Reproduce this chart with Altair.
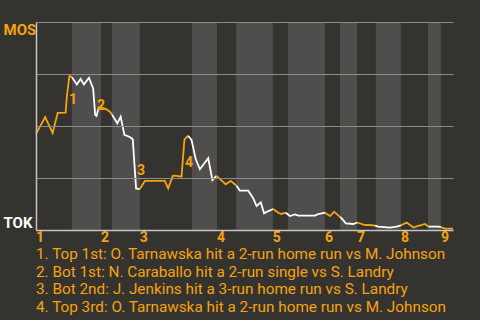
import altair as alt
import pandas as pd

ORANGE = "#f5a30f"
WHITE = "#ffffff"
BG = "#353330"
BAND = "#4f4e4c"
GRID = "#8c8c89"
AXIS = "#c4c4c2"

# Win-probability readings (MOS win %, plotted over game progress 0-100)
play = [
    0, 2.2, 4.0, 5.2, 7.1, 7.4, 8.0, 8.2, 8.6,
    9.8, 10.7, 11.5, 12.7, 13.7, 14.2, 14.5, 15.1,
    15.6, 17.0, 17.7, 18.2,
    19.5, 20.3, 21.2, 22.5, 23.2, 24.0, 24.9,
    26.1, 30.9, 31.7, 32.8, 33.3, 34.9, 35.6, 36.5,
    37.3, 38.3, 39.3, 41.3, 42.3, 43.3,
    44.4, 45.5, 46.7, 48.1,
    48.9, 50.9, 52.1, 52.9, 53.9, 54.7, 55.7, 56.9,
    58.1, 58.8, 59.9,
    60.9, 62.1, 62.9, 66.9, 67.5, 69.3,
    70.5, 71.5, 72.9,
    73.3, 74.3, 76.1, 77.0,
    78.9, 80.1, 81.3,
    82.1, 84.9, 86.5, 87.5,
    88.9, 90.5, 91.3, 93.3, 94.1,
    96.5, 97.1,
    98.1, 100,
]
mos_wp = [
    46.2, 54.3, 46.6, 56.3, 56.4, 64.1, 74.0, 74.0, 73.4,
    70.0, 72.6, 70.0, 73.2, 68.1, 55.3, 54.8, 59.3,
    59.1, 57.9, 56.9, 55.6,
    51.3, 54.5, 45.7, 44.7, 43.6, 20.0, 19.7,
    23.6, 23.6, 20.0, 26.0, 26.1, 25.6, 43.6, 45.3,
    43.3, 34.1, 29.2, 34.5, 24.0, 26.0,
    24.0, 22.0, 23.6, 21.3,
    18.9, 18.9, 15.2, 11.5, 13.3, 8.0, 9.1, 10.1,
    8.3, 7.7, 8.3,
    6.7, 7.5, 6.9, 6.9, 7.5, 8.3,
    6.7, 8.8, 6.3,
    5.6, 3.2, 2.9, 3.6,
    2.4, 2.4, 2.1,
    1.6, 1.1, 1.6, 2.2,
    3.6, 1.2, 1.7, 2.9, 1.6,
    1.6, 1.4,
    0.7, 0.7,
]
# Half-inning each reading belongs to (even = top, odd = bottom)
half = (
    [0] * 9 + [1] * 8 + [2] * 4 + [3] * 7 + [4] * 8 + [5] * 6 + [6] * 4
    + [7] * 8 + [8] * 3 + [9] * 6 + [10] * 3 + [11] * 4 + [12] * 3
    + [13] * 4 + [14] * 5 + [15] * 2 + [16] * 2
)

# Bottom halves of each inning (shaded)
bot_start = [8.6, 18.2, 37.4, 48.0, 60.4, 72.9, 81.5, 94.0]
bot_end = [15.6, 24.9, 43.4, 56.8, 69.3, 77.0, 87.5, 97.1]

# Start of each inning
inning_start = [0, 15.6, 24.9, 43.4, 56.8, 69.3, 77.0, 87.5, 97.1]
inning_label = ["1", "2", "3", "4", "5", "6", "7", "8", "9"]

# Key plays
key_num = ["1", "2", "3", "4"]
key_play = [8.9, 15.6, 25.2, 36.7]
key_wp = [62.5, 59.6, 28.5, 32.1]
key_text = [
    "1. Top 1st: O. Tarnawska hit a 2-run home run vs M. Johnson",
    "2. Bot 1st: N. Caraballo hit a 2-run single vs S. Landry",
    "3. Bot 2nd: J. Jenkins hit a 3-run home run vs S. Landry",
    "4. Top 3rd: O. Tarnawska hit a 2-run home run vs M. Johnson",
]

# Build line segments per half-inning, each starting at the previous one's end
rows = []
for i, (p, w, h) in enumerate(zip(play, mos_wp, half)):
    if i > 0 and half[i - 1] != h:
        rows.append({"play": play[i - 1], "wp": mos_wp[i - 1], "seg": h, "order": i - 0.5})
    rows.append({"play": p, "wp": w, "seg": h, "order": i})
line_df = pd.DataFrame(rows)
line_df["side"] = line_df["seg"].map(lambda s: "top" if s % 2 == 0 else "bottom")

bands_df = pd.DataFrame({"start": bot_start, "end": bot_end})
innings_df = pd.DataFrame({"play": inning_start, "label": inning_label})
keys_df = pd.DataFrame({"play": key_play, "wp": key_wp, "num": key_num})

x_scale = alt.Scale(domain=[0, 100], nice=False, zero=False)
y_scale = alt.Scale(domain=[0, 100], nice=False)

bands = alt.Chart(bands_df).mark_rect(color=BAND).encode(
    x=alt.X("start:Q", scale=x_scale,
            axis=alt.Axis(labels=False, ticks=False, grid=False, title=None,
                          domainColor=AXIS, domainWidth=1.5, zindex=1)),
    x2="end:Q",
)

line = alt.Chart(line_df).mark_line(strokeWidth=1.8, interpolate="linear").encode(
    x=alt.X("play:Q", scale=x_scale),
    y=alt.Y(
        "wp:Q",
        scale=y_scale,
        axis=alt.Axis(
            values=[0, 25, 50, 75, 100],
            labelExpr="datum.value == 100 ? 'MOS' : datum.value == 0 ? 'TOK' : ''",
            labelFlush=True,
            labelOverlap=False,
            labelAlign="left",
            labelPadding=33,
            labelFont="Roboto",
            labelFontSize=15,
            labelFontWeight="bold",
            labelColor={"condition": {"test": "datum.value == 100", "value": ORANGE},
                        "value": WHITE},
            ticks=False,
            domainColor=AXIS,
            domainWidth=1.5,
            gridColor=GRID,
            gridWidth=1,
            zindex=1,
            title=None,
        ),
    ),
    color=alt.Color("side:N", scale=alt.Scale(domain=["top", "bottom"], range=[ORANGE, WHITE]),
                    legend=None),
    detail="seg:N",
    order="order:Q",
)

keys = alt.Chart(keys_df).mark_text(
    font="Roboto", fontSize=14, fontWeight="bold", color=ORANGE,
    align="center", baseline="middle",
).encode(
    x=alt.X("play:Q", scale=x_scale),
    y=alt.Y("wp:Q", scale=y_scale),
    text="num:N",
)

innings = alt.Chart(innings_df).mark_text(
    font="Roboto", fontSize=14, fontWeight="bold", color=ORANGE,
    align="left", baseline="middle",
).encode(
    x=alt.X("play:Q", scale=x_scale),
    y=alt.value(216),
    text="label:N",
)

chart = alt.layer(bands, line, keys, innings).properties(
    width=417,
    height=208,
    padding={"left": 36, "top": 22, "right": 27, "bottom": 90},
    autosize=alt.AutoSizeParams(type="none"),
    title=alt.TitleParams(
        text=key_text,
        orient="bottom",
        anchor="start",
        frame="group",
        font="Roboto",
        fontSize=15.3,
        fontWeight="normal",
        color=ORANGE,
        lineHeight=17.6,
        offset=2,
    ),
).configure(background=BG).configure_view(stroke=None)

chart.save("out.html", embed_options={"renderer": "svg", "actions": False})
